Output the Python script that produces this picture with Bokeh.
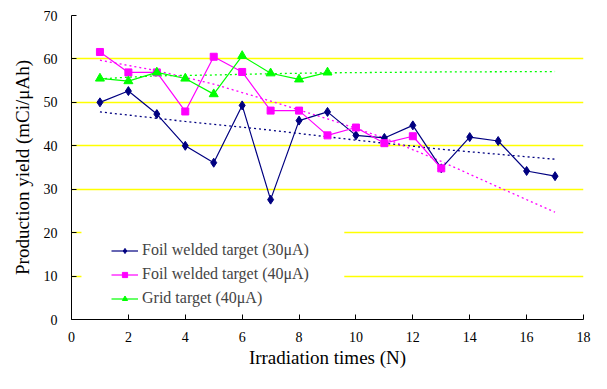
from bokeh.plotting import figure
from bokeh.models import FixedTicker, Legend, LegendItem, BoxAnnotation, Range1d
from bokeh.embed import file_html
from bokeh.resources import INLINE

# ---- data ----
x_foil30 = list(range(1, 18))
y_foil30 = [50.0, 52.6, 47.3, 40.0, 36.1, 49.3, 27.6, 45.8, 47.8, 42.4, 41.8, 44.7, 34.8, 42.0, 41.1, 34.2, 33.0]

x_foil40 = list(range(1, 14))
y_foil40 = [61.6, 56.9, 56.9, 47.9, 60.5, 57.0, 48.1, 48.1, 42.4, 44.2, 40.6, 42.2, 34.8]

x_grid40 = list(range(1, 10))
y_grid40 = [55.5, 54.9, 56.9, 55.5, 51.9, 60.7, 56.7, 55.3, 56.9]

# trend lines
x_trend_foil30 = [1, 4, 7, 10, 13, 17]
y_trend_foil30 = [47.8, 45.6, 43.6, 41.3, 39.2, 36.9]

x_trend_foil40 = [1, 3, 5, 7, 9, 11, 13, 15, 17]
y_trend_foil40 = [59.7, 57.3, 54.2, 50.3, 46.2, 41.8, 36.4, 30.5, 24.7]

x_trend_grid40 = [1, 2, 3, 5, 7, 9, 13, 17]
y_trend_grid40 = [55.4, 55.8, 56.1, 56.3, 56.6, 56.8, 57.0, 57.1]

x_ticks = [0, 2, 4, 6, 8, 10, 12, 14, 16, 18]
y_ticks = [0, 10, 20, 30, 40, 50, 60, 70]

labels = ["Foil welded target (30\u03bcA)", "Foil welded target (40\u03bcA)", "Grid target (40\u03bcA)"]
x_title = "Irradiation times (N)"
y_title = "Production yield (mCi/\u03bcAh)"

NAVY = "#000080"
PINK = "#FF00FF"
GREEN = "#00FF00"
FONT = "Liberation Serif"

p = figure(width=591, height=373, output_backend="svg", toolbar_location=None,
           x_range=Range1d(0, 18), y_range=Range1d(0, 70),
           min_border_left=71, min_border_right=8, min_border_top=15, min_border_bottom=54)
p.outline_line_color = None
p.background_fill_color = "white"

p.xgrid.visible = False
p.ygrid.grid_line_color = "#FFFF00"
p.ygrid.grid_line_width = 1.3
p.ygrid.ticker = FixedTicker(ticks=y_ticks)

# white backdrop behind legend (covers grid lines like the original)
p.add_layout(BoxAnnotation(left=0.35, right=9.59, bottom=1.6, top=25.5,
                           fill_color="white", fill_alpha=1.0, line_color=None,
                           level="underlay"))

for ax in (p.xaxis[0], p.yaxis[0]):
    ax.axis_line_color = "#000000"
    ax.major_tick_line_color = "#000000"
    ax.major_tick_in = 5
    ax.major_tick_out = 0
    ax.minor_tick_line_color = None
    ax.major_label_text_font = FONT
    ax.major_label_text_font_size = "14px"
    ax.major_label_text_color = "#000000"
    ax.axis_label_text_font = FONT
    ax.axis_label_text_font_style = "normal"
    ax.axis_label_text_color = "#000000"

p.xaxis.ticker = FixedTicker(ticks=x_ticks)
p.yaxis.ticker = FixedTicker(ticks=y_ticks)
p.xaxis.axis_label = x_title
p.yaxis.axis_label = y_title
p.xaxis.axis_label_text_font_size = "19px"
p.yaxis.axis_label_text_font_size = "19px"
p.xaxis.major_label_standoff = 12
p.xaxis.axis_label_standoff = 2
p.yaxis.major_label_standoff = 14
p.yaxis.axis_label_standoff = 8

# trend lines
p.line(x_trend_foil30, y_trend_foil30, line_color=NAVY, line_width=1.3, line_dash="2 3")
p.line(x_trend_foil40, y_trend_foil40, line_color=PINK, line_width=1.3, line_dash="2 3")
p.line(x_trend_grid40, y_trend_grid40, line_color=GREEN, line_width=1.3, line_dash="2 3")

# series
l1 = p.line(x_foil30, y_foil30, line_color=NAVY, line_width=1.2)
m1 = p.scatter(x_foil30, y_foil30, marker="diamond", size=9, fill_color=NAVY, line_color=NAVY)
l2 = p.line(x_foil40, y_foil40, line_color=PINK, line_width=1.2)
m2 = p.scatter(x_foil40, y_foil40, marker="square", size=7, fill_color=PINK, line_color=PINK)
l3 = p.line(x_grid40, y_grid40, line_color=GREEN, line_width=1.2)
m3 = p.scatter(x_grid40, y_grid40, marker="triangle", size=9, fill_color=GREEN, line_color=GREEN)

legend = Legend(items=[LegendItem(label=labels[0], renderers=[l1, m1]),
                       LegendItem(label=labels[1], renderers=[l2, m2]),
                       LegendItem(label=labels[2], renderers=[l3, m3])],
                location=(40, 11), margin=0, padding=8, spacing=4,
                label_text_font=FONT, label_text_font_size="16px",
                label_height=20, glyph_height=13, glyph_width=27, label_standoff=4,
                background_fill_color="white", background_fill_alpha=1.0,
                border_line_color=None)
p.add_layout(legend, "center")

open("out.html", "w").write(file_html(p, INLINE))
